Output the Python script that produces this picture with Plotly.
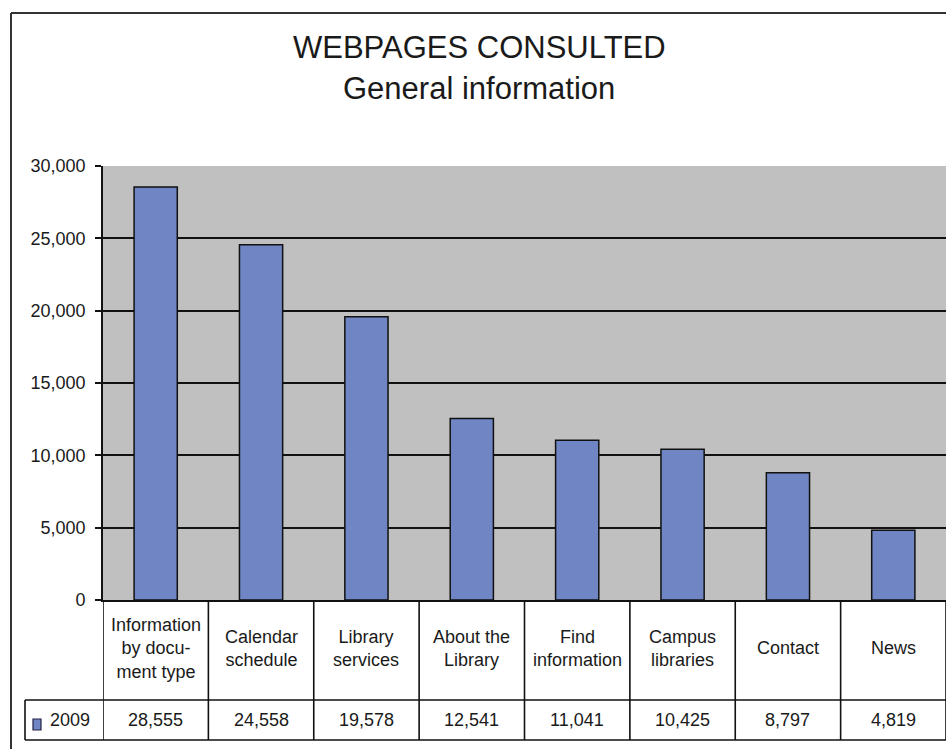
import plotly.graph_objects as go

# Page views per section of the library website, 2009
categories = [
    "Information<br>by docu-<br>ment type",
    "Calendar<br>schedule",
    "Library<br>services",
    "About the<br>Library",
    "Find<br>information",
    "Campus<br>libraries",
    "Contact",
    "News",
]
visits_2009 = [28555, 24558, 19578, 12541, 11041, 10425, 8797, 4819]
series_name = "2009"
y_ticks = [0, 5000, 10000, 15000, 20000, 25000, 30000]

W, H = 946, 749
M_L, M_R, M_T, M_B = 103, 0, 166, 149
PLOT_H = H - M_T - M_B
PLOT_W = W - M_L - M_R

BAR_COLOR = "#7086c4"
FONT = "Liberation Sans, Arial, sans-serif"
TXT = "#1a1a1a"


def py(pixel_y):
    """Convert a page pixel row into paper y."""
    return (H - M_B - pixel_y) / PLOT_H


def px(pixel_x):
    """Convert a page pixel column into paper x."""
    return (pixel_x - M_L) / PLOT_W


n = len(categories)
xs = list(range(n))

fig = go.Figure(
    go.Bar(
        x=xs,
        y=visits_2009,
        name=series_name,
        marker=dict(color=BAR_COLOR, line=dict(color="#111111", width=1.5)),
        width=0.41,
        showlegend=False,
        hoverinfo="skip",
    )
)

shapes = []
annotations = []

# outer frame (top and left edges)
frame = dict(type="line", xref="paper", yref="paper",
             line=dict(color="#333333", width=2), layer="above")
shapes.append(dict(frame, x0=px(11), x1=px(W + 5), y0=py(13), y1=py(13)))
shapes.append(dict(frame, x0=px(11), x1=px(11), y0=py(13), y1=py(H + 5)))

# data table under the axis
cell = dict(type="line", line=dict(color="#111111", width=1.6), layer="above")
row_mid, row_bot = py(700), py(740)
for edge in [i - 0.5 for i in range(n + 1)]:
    shapes.append(dict(cell, xref="x", yref="paper", x0=edge, x1=edge,
                       y0=0, y1=row_bot))
for yy in (row_mid, row_bot):
    shapes.append(dict(cell, xref="paper", yref="paper", x0=px(25), x1=px(W + 5),
                       y0=yy, y1=yy))
shapes.append(dict(cell, xref="paper", yref="paper", x0=px(25), x1=px(25),
                   y0=row_mid, y1=row_bot))

# series key in the first table cell
shapes.append(dict(type="rect", xref="paper", yref="paper",
                   x0=px(33), x1=px(41), y0=py(730), y1=py(719),
                   fillcolor=BAR_COLOR, line=dict(color="#222244", width=1.2),
                   layer="above"))
annotations.append(dict(x=px(48), y=py(720), xref="paper", yref="paper",
                        text=series_name, showarrow=False, xanchor="left",
                        yanchor="middle", font=dict(size=18, color=TXT, family=FONT)))

for i, (cat, val) in enumerate(zip(categories, visits_2009)):
    annotations.append(dict(x=i, y=py(648), xref="x", yref="paper", text=cat,
                            showarrow=False, xanchor="center", yanchor="middle",
                            font=dict(size=18, color=TXT, family=FONT)))
    annotations.append(dict(x=i, y=py(720), xref="x", yref="paper", text=f"{val:,}",
                            showarrow=False, xanchor="center", yanchor="middle",
                            font=dict(size=18, color=TXT, family=FONT)))

# two-line title, centred on the page frame
title_x = px(479)
annotations.append(dict(x=title_x, xref="paper", y=py(47), yref="paper",
                        text="WEBPAGES CONSULTED", showarrow=False,
                        xanchor="center", yanchor="middle",
                        font=dict(size=31, color=TXT, family=FONT)))
annotations.append(dict(x=title_x, xref="paper", y=py(88), yref="paper",
                        text="General information", showarrow=False,
                        xanchor="center", yanchor="middle",
                        font=dict(size=31, color=TXT, family=FONT)))

fig.update_layout(
    width=W,
    height=H,
    margin=dict(l=M_L, r=M_R, t=M_T, b=M_B, pad=0),
    paper_bgcolor="white",
    plot_bgcolor="#c0c0c0",
    bargap=0.59,
    shapes=shapes,
    annotations=annotations,
    font=dict(family=FONT, color=TXT),
)
fig.update_xaxes(
    range=[-0.5, n - 0.5],
    showticklabels=False,
    ticks="",
    showgrid=False,
    zeroline=False,
    showline=True,
    linecolor="#111111",
    linewidth=1.6,
    fixedrange=True,
)
fig.update_yaxes(
    range=[0, 30000],
    tickvals=y_ticks,
    tickformat=",",
    tickfont=dict(size=18, color=TXT, family=FONT),
    ticks="outside",
    ticklen=6,
    tickwidth=1.6,
    tickcolor="#111111",
    ticklabelstandoff=6,
    showgrid=True,
    gridcolor="#111111",
    gridwidth=2,
    zeroline=False,
    showline=True,
    linecolor="#111111",
    linewidth=1.6,
    fixedrange=True,
)

fig.write_html("out.html")
